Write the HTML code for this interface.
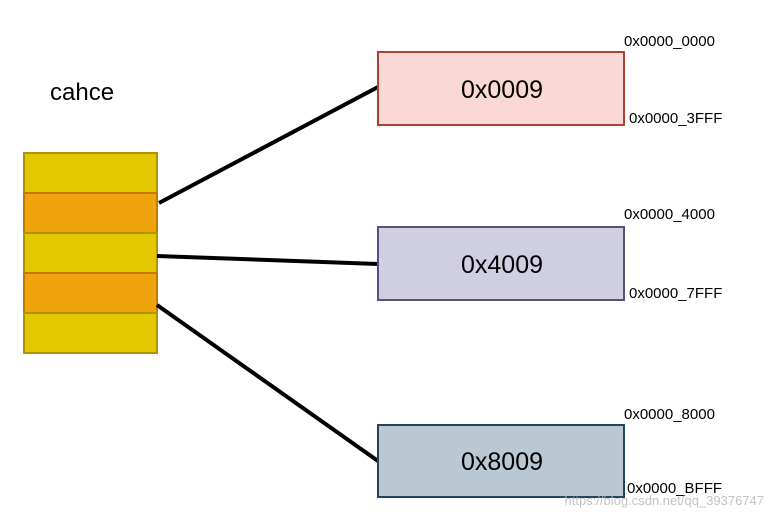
<!DOCTYPE html>
<html><head><meta charset="utf-8"><style>
html,body{margin:0;padding:0;background:#fff;}
</style></head><body>
<svg width="772" height="520" xmlns="http://www.w3.org/2000/svg" font-family="Liberation Sans, Arial, sans-serif">
<rect width="772" height="520" fill="#fff"/>
<text x="50" y="100" font-size="24" fill="#000">cahce</text>
<g stroke-width="2">
<rect x="24" y="153" width="133" height="40" fill="#e3c800" stroke="#b09500"/>
<rect x="24" y="193" width="133" height="40" fill="#f0a30a" stroke="#c27a00"/>
<rect x="24" y="233" width="133" height="40" fill="#e3c800" stroke="#b09500"/>
<rect x="24" y="273" width="133" height="40" fill="#f0a30a" stroke="#c27a00"/>
<rect x="24" y="313" width="133" height="40" fill="#e3c800" stroke="#b09500"/>
</g>
<g stroke="#000" stroke-width="4">
<line x1="159" y1="203" x2="378" y2="87"/>
<line x1="157" y1="256" x2="378" y2="264"/>
<line x1="157" y1="305" x2="378" y2="461"/>
</g>
<rect x="378" y="52" width="246" height="73" fill="#fad9d5" stroke="#ae4132" stroke-width="2"/>
<rect x="378" y="227" width="246" height="73" fill="#d0cee2" stroke="#56517e" stroke-width="2"/>
<rect x="378" y="425" width="246" height="72" fill="#bac8d3" stroke="#23445d" stroke-width="2"/>
<g font-size="25" text-anchor="middle" fill="#000">
<text x="502" y="98">0x0009</text>
<text x="502" y="273">0x4009</text>
<text x="502" y="470">0x8009</text>
</g>
<g font-size="15" fill="#000">
<text x="624" y="46">0x0000_0000</text>
<text x="629" y="123">0x0000_3FFF</text>
<text x="624" y="219">0x0000_4000</text>
<text x="629" y="298">0x0000_7FFF</text>
<text x="624" y="419">0x0000_8000</text>
<text x="627" y="493">0x0000_BFFF</text>
</g>
<text x="764" y="505" font-size="13" fill="#b8b8b8" text-anchor="end" opacity="0.85">https://blog.csdn.net/qq_39376747</text>
</svg>
</body></html>
